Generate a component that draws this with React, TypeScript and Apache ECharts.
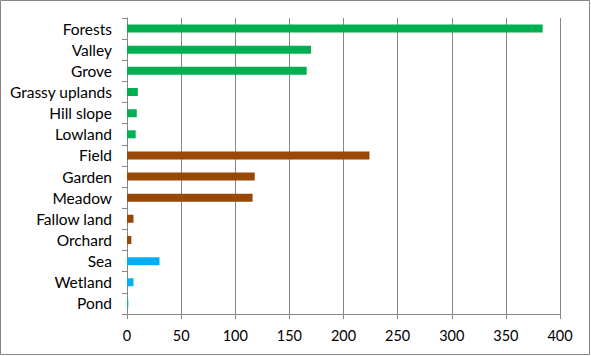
import React, { useEffect, useRef } from "react";
import * as echarts from "echarts";

const categories = [
  "Forests", "Valley", "Grove", "Grassy uplands", "Hill slope", "Lowland",
  "Field", "Garden", "Meadow", "Fallow land", "Orchard",
  "Sea", "Wetland", "Pond",
];
const values = [384, 170, 166, 10, 9, 8, 224, 118, 116, 6, 4, 30, 6, 1.2];
const groups = [0, 0, 0, 0, 0, 0, 1, 1, 1, 1, 1, 2, 2, 2];
const groupColors = ["#00B050", "#984807", "#00B0F0"];
const xTicks = { min: 0, max: 400, interval: 50 };

export default function App() {
  const ref = useRef<HTMLDivElement>(null);
  useEffect(() => {
    if (!ref.current) return;
    const chart = echarts.init(ref.current, undefined, { renderer: "svg" });
    const font = "Lato, 'Liberation Sans', Arial, sans-serif";
    chart.setOption({
      animation: false,
      backgroundColor: "#ffffff",
      grid: { left: 127, right: 31, top: 18, bottom: 42, containLabel: false },
      xAxis: {
        type: "value",
        min: xTicks.min,
        max: xTicks.max,
        interval: xTicks.interval,
        axisLine: { show: true, lineStyle: { color: "#868686", width: 1 } },
        axisTick: { show: true, length: 5, lineStyle: { color: "#868686" } },
        splitLine: { show: true, lineStyle: { color: "#868686", width: 1 } },
        axisLabel: { color: "#000", fontSize: 14.5, fontFamily: font, margin: 14 },
      },
      yAxis: {
        type: "category",
        data: categories,
        inverse: true,
        axisLine: { show: true, lineStyle: { color: "#868686", width: 1 } },
        axisTick: { show: true, length: 5, lineStyle: { color: "#868686" } },
        axisLabel: { color: "#000", fontSize: 15.5, fontFamily: font, margin: 15 },
      },
      series: [
        {
          type: "bar",
          barWidth: 8,
          data: values.map((v, i) => ({
            value: v,
            itemStyle: { color: groupColors[groups[i]] },
          })),
        },
      ],
      graphic: [
        {
          type: "rect",
          shape: { x: 0.5, y: 0.5, width: 589, height: 354 },
          style: { fill: "none", stroke: "#868686", lineWidth: 1 },
          silent: true,
        },
      ],
    });
    return () => chart.dispose();
  }, []);
  return (
    <div
      ref={ref}
      style={{ position: "fixed", left: 0, top: 0, width: 591, height: 356 }}
    />
  );
}
